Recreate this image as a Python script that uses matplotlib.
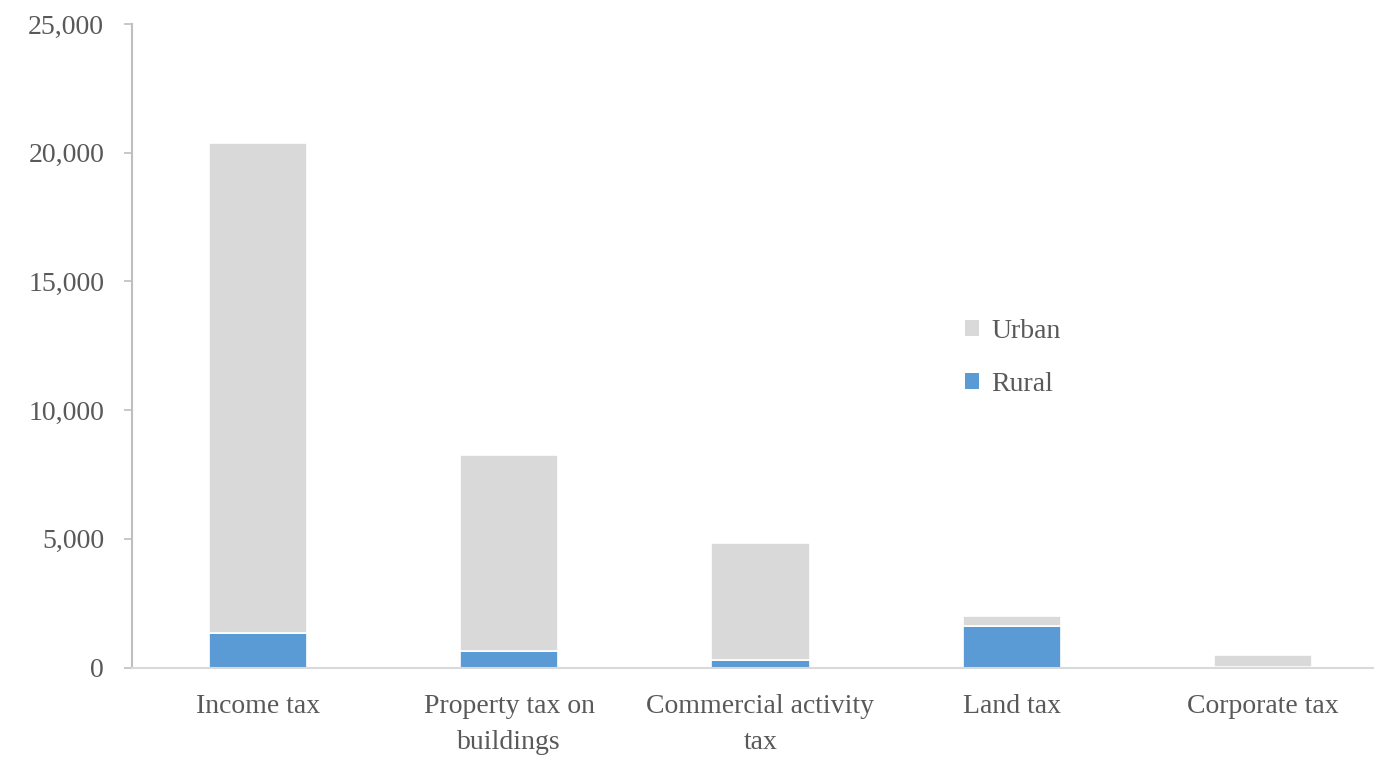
import matplotlib
matplotlib.use("Agg")
import matplotlib.pyplot as plt
from matplotlib.patches import Patch
from matplotlib.ticker import FuncFormatter

categories = ["Income tax", "Property tax on\nbuildings", "Commercial activity\ntax",
              "Land tax", "Corporate tax"]
rural = [1350, 650, 300, 1600, 20]
urban = [19020, 7600, 4520, 420, 480]
y_ticks = [0, 5000, 10000, 15000, 20000, 25000]

plt.rcParams["font.family"] = ["Liberation Serif", "DejaVu Serif"]

fig = plt.figure(figsize=(13.74, 7.62), dpi=100)
ax = fig.add_axes([132 / 1374, 1 - 667.5 / 762, (1389 - 132) / 1374, (667.5 - 24) / 762])

x = list(range(len(categories)))
rural_color = "#5b9bd5"
urban_color = "#d9d9d9"
ax.bar(x, rural, width=0.39, color=rural_color, edgecolor="white", linewidth=1.2, zorder=2)
ax.bar(x, urban, width=0.39, bottom=rural, color=urban_color, edgecolor="white",
       linewidth=1.2, zorder=2)

ax.set_xlim(-0.5, len(categories) - 0.5)
ax.set_ylim(0, 25000)
ax.set_yticks(y_ticks)
ax.yaxis.set_major_formatter(FuncFormatter(lambda v, p: f"{int(v):,}"))
ax.set_xticks(x)
ax.set_xticklabels(categories, linespacing=1.58)

for s in ["top", "right"]:
    ax.spines[s].set_visible(False)
ax.spines["left"].set_color("#bfbfbf")
ax.spines["left"].set_linewidth(1.5)
ax.spines["bottom"].set_color("#d9d9d9")
ax.spines["bottom"].set_linewidth(1.5)
ax.spines["bottom"].set_zorder(3)

label_size = 20
ax.tick_params(axis="y", length=6, width=1.2, color="#bfbfbf", labelsize=label_size,
               labelcolor="#595959", pad=14)
ax.tick_params(axis="x", length=0, labelsize=label_size, labelcolor="#595959", pad=19)

handles = [Patch(facecolor=urban_color, label="Urban"),
           Patch(facecolor=rural_color, label="Rural")]
fig.legend(handles=handles, loc="upper left", bbox_to_anchor=(940 / 1374, 1 - 294 / 762),
           frameon=False, fontsize=label_size, labelcolor="#595959", handlelength=0.5,
           handleheight=0.5, handletextpad=0.45, labelspacing=1.0)

fig.savefig("out.png", dpi=100)
